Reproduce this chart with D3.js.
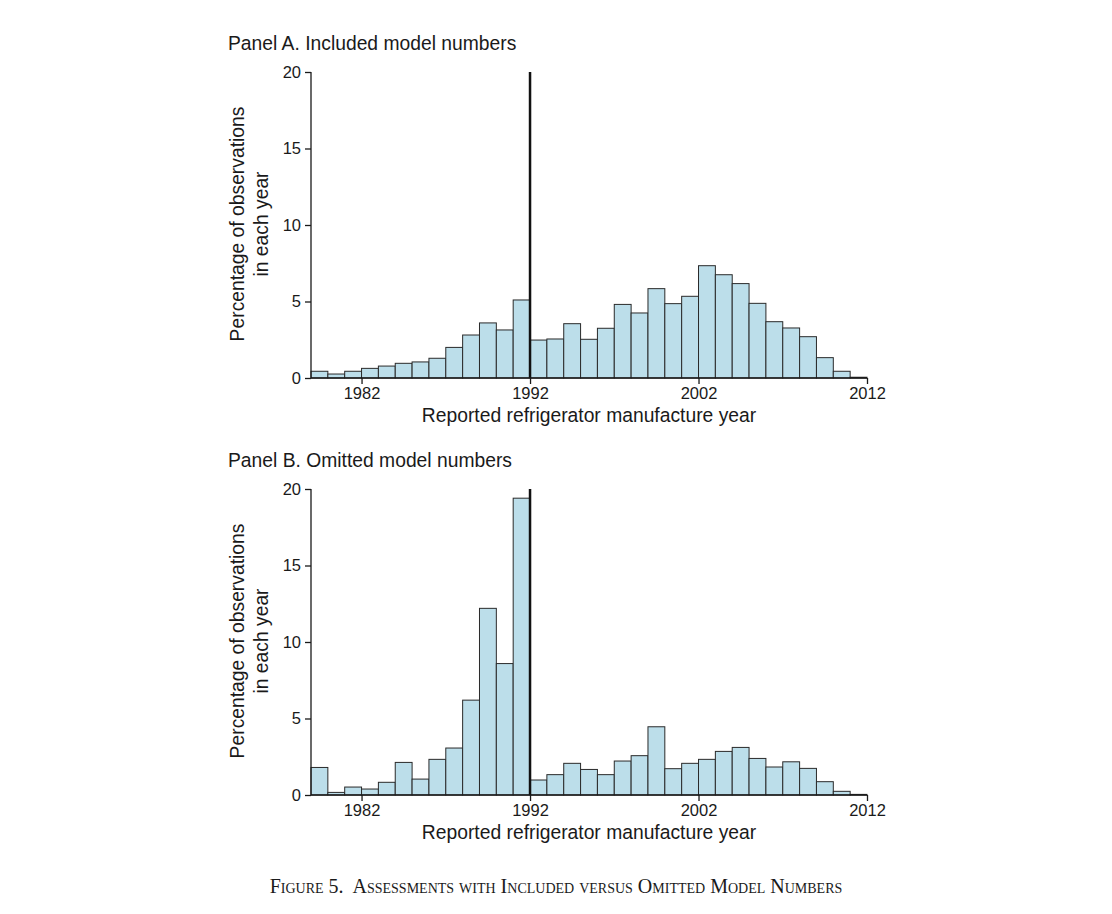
<!DOCTYPE html>
<html>
<head>
<meta charset="utf-8">
<script src="https://cdn.jsdelivr.net/npm/d3@7"></script>
<style>
  body { margin: 0; background: #fff; }
  text { fill: #1a1a1a; }
</style>
</head>
<body>
<script>
// years of each bin (bin covers [year, year+1))
const years = d3.range(1979, 2012);
// Panel A: included model numbers (% of observations)
const includedPct = [0.44, 0.26, 0.44, 0.63, 0.78, 0.96, 1.05, 1.29, 2.0, 2.81, 3.6, 3.14, 5.1,
  2.48, 2.55, 3.55, 2.53, 3.25, 4.81, 4.25, 5.84, 4.86, 5.34, 7.34, 6.75, 6.17, 4.88, 3.68,
  3.27, 2.7, 1.33, 0.44, 0.05];
// Panel B: omitted model numbers (% of observations)
const omittedPct = [1.8, 0.17, 0.52, 0.39, 0.83, 2.13, 1.04, 2.33, 3.07, 6.2, 12.2, 8.59, 19.4,
  0.98, 1.33, 2.07, 1.67, 1.33, 2.22, 2.57, 4.46, 1.72, 2.07, 2.33, 2.85, 3.11, 2.39, 1.83,
  2.17, 1.74, 0.87, 0.24, 0.04];
const xTicks = [1982, 1992, 2002, 2012];
const yTicks = [0, 5, 10, 15, 20];
const cutoffYear = 1992;

const W = 1112, H = 914;
const SANS = "Liberation Sans, Arial, sans-serif";
const svg = d3.select("body").append("svg").attr("width", W).attr("height", H)
  .style("font-family", SANS);

const x = d3.scaleLinear().domain([1979, 2012]).range([311, 867]);

function panel(title, values, top) {
  const g = svg.append("g").attr("transform", `translate(0,${top})`);
  const y = d3.scaleLinear().domain([0, 20]).range([306, 0]);

  g.append("text").attr("x", 228).attr("y", -22).attr("font-size", 19.3).text(title);

  // bars
  g.selectAll("rect").data(values).enter().append("rect")
    .attr("x", (d, i) => x(years[i]))
    .attr("width", (d, i) => x(years[i] + 1) - x(years[i]))
    .attr("y", d => y(d))
    .attr("height", d => y(0) - y(d))
    .attr("fill", "#bcdeea")
    .attr("stroke", "#2a2a2a")
    .attr("stroke-width", 1);

  // cutoff line
  g.append("line")
    .attr("x1", x(cutoffYear)).attr("x2", x(cutoffYear))
    .attr("y1", y(20)).attr("y2", y(0))
    .attr("stroke", "#111").attr("stroke-width", 2.5);

  // y axis
  const yAxis = g.append("g").attr("transform", "translate(311,0)")
    .call(d3.axisLeft(y).tickValues(yTicks).tickSize(6).tickPadding(4));
  // x axis
  const xAxis = g.append("g").attr("transform", `translate(0,${y(0)})`)
    .call(d3.axisBottom(x).tickValues(xTicks).tickFormat(d3.format("d")).tickSize(6).tickPadding(3));
  [yAxis, xAxis].forEach(a => {
    a.attr("font-family", SANS).attr("font-size", 16.5);
    a.select(".domain").attr("stroke", "#1a1a1a").attr("stroke-width", 1.3);
    a.selectAll(".tick line").attr("stroke", "#1a1a1a").attr("stroke-width", 1.3);
    a.selectAll("text").attr("fill", "#1a1a1a");
  });
  xAxis.select(".domain").attr("d", `M${x(1979)},0H${x(2012)}`);
  yAxis.select(".domain").attr("d", `M0,${y(0)}V${y(20)}`);

  g.append("text").attr("x", 589).attr("y", 350).attr("text-anchor", "middle")
    .attr("font-size", 19.3).text("Reported refrigerator manufacture year");

  const yl = g.append("text").attr("transform", `translate(244,152) rotate(-90)`)
    .attr("text-anchor", "middle").attr("font-size", 19.3);
  yl.append("tspan").attr("x", 0).attr("dy", 0).text("Percentage of observations");
  yl.append("tspan").attr("x", 0).attr("dy", 24).text("in each year");
}

panel("Panel A. Included model numbers", includedPct, 72);
panel("Panel B. Omitted model numbers", omittedPct, 489);

svg.append("text").attr("x", 556).attr("y", 893).attr("text-anchor", "middle")
  .style("font-family", "Liberation Serif, Times New Roman, serif")
  .attr("font-size", 20).style("font-variant", "small-caps")
  .attr("xml:space", "preserve").style("white-space", "pre")
  .text("Figure 5.  Assessments with Included versus Omitted Model Numbers");
</script>
</body>
</html>
